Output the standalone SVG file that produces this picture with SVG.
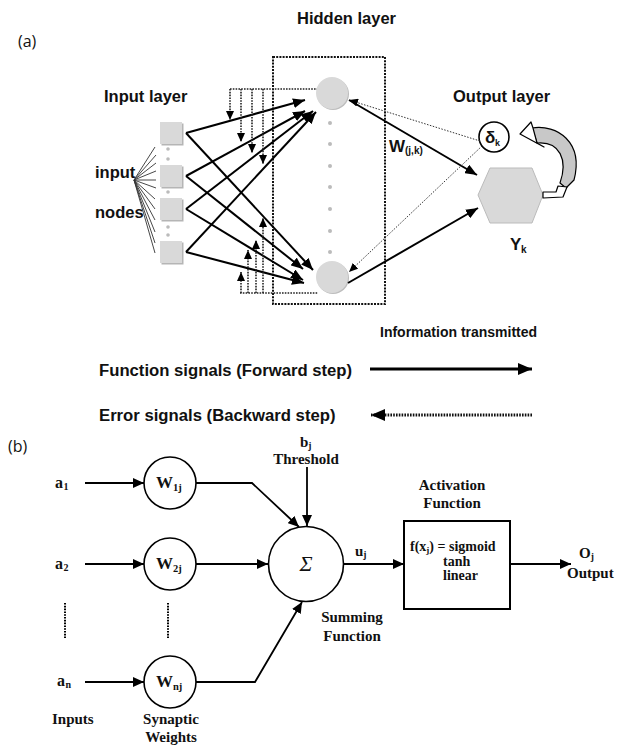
<svg xmlns="http://www.w3.org/2000/svg" width="620" height="746" viewBox="0 0 620 746">
<style>
.sa{font-family:"Liberation Sans",Arial,sans-serif;font-weight:bold;fill:#111}
.lab{font-family:"Open Sans","Liberation Sans",sans-serif;font-size:16px;fill:#111}
.tb{font-family:"Liberation Serif","Times New Roman",serif;font-weight:bold;fill:#111}
.sol{stroke:#000;stroke-width:2;fill:none}
.dot{stroke:#222;stroke-width:1.6;stroke-dasharray:1.6 1.2;fill:none}
.thin{stroke:#333;stroke-width:1;stroke-dasharray:1.5 1.5;fill:none}
.fan{stroke:#333;stroke-width:0.9;fill:none}
.gray{fill:#d9d9d9}
.wc{fill:#fff;stroke:#000;stroke-width:1.6}
.bl{stroke:#000;stroke-width:1.8;fill:none}
</style>
<defs>
<marker id="ah" markerUnits="userSpaceOnUse" markerWidth="12" markerHeight="10" viewBox="0 0 12 10" refX="12" refY="5" orient="auto"><path d="M0,0 L12,5 L0,10 Z" fill="#000"/></marker>
<marker id="ahs" markerUnits="userSpaceOnUse" markerWidth="9" markerHeight="8" viewBox="0 0 9 8" refX="9" refY="4" orient="auto"><path d="M0,0 L9,4 L0,8 Z" fill="#000"/></marker>
<marker id="ahb" markerUnits="userSpaceOnUse" markerWidth="11" markerHeight="10" viewBox="0 0 11 10" refX="11" refY="5" orient="auto"><path d="M0,0 L11,5 L0,10 Z" fill="#000"/></marker>
<marker id="ahl" markerUnits="userSpaceOnUse" markerWidth="14" markerHeight="12" viewBox="0 0 14 12" refX="14" refY="6" orient="auto"><path d="M0,0 L14,6 L0,12 Z" fill="#000"/></marker>
</defs>

<!-- Part (a) labels -->
<text class="lab" x="18" y="47">(a)</text>
<text class="sa" x="297" y="24" font-size="16.5">Hidden layer</text>
<text class="sa" x="104" y="102" font-size="16.5">Input layer</text>
<text class="sa" x="453" y="102" font-size="16.5">Output layer</text>
<text class="sa" x="95" y="178" font-size="16.5">input</text>
<text class="sa" x="95" y="218" font-size="16.5">nodes</text>

<!-- hidden layer box -->
<rect x="273" y="57" width="112" height="247" fill="none" stroke="#111" stroke-width="2" stroke-dasharray="2 1.2"/>

<!-- input nodes -->
<g id="in1"><rect x="161.5" y="123.5" width="22" height="22" fill="#b5b5b5"/><rect class="gray" x="160" y="122" width="22" height="22"/></g>
<g id="in2"><rect x="161.5" y="166.5" width="22" height="22" fill="#b5b5b5"/><rect class="gray" x="160" y="165" width="22" height="22"/></g>
<g id="in3"><rect x="161.5" y="199.5" width="22" height="22" fill="#b5b5b5"/><rect class="gray" x="160" y="198" width="22" height="22"/></g>
<g id="in4"><rect x="161.5" y="242.5" width="22" height="22" fill="#b5b5b5"/><rect class="gray" x="160" y="241" width="22" height="22"/></g>
<g id="indots" fill="#bbb">
<circle cx="168" cy="149" r="1.8"/><circle cx="168" cy="159" r="1.8"/><circle cx="168" cy="192" r="1.8"/><circle cx="168" cy="227" r="1.8"/><circle cx="168" cy="235" r="1.8"/>
</g>

<!-- hidden nodes -->
<g id="h1"><circle cx="333" cy="94" r="16" fill="#bdbdbd"/><circle class="gray" cx="332" cy="93" r="16"/></g>
<g id="h2"><circle cx="333" cy="278" r="16" fill="#bdbdbd"/><circle class="gray" cx="332" cy="277" r="16"/></g>
<g id="hdots" fill="#bbb">
<circle cx="330" cy="123" r="2"/><circle cx="330" cy="144" r="2"/><circle cx="330" cy="166" r="2"/><circle cx="330" cy="187" r="2"/><circle cx="330" cy="209" r="2"/><circle cx="330" cy="231" r="2"/><circle cx="330" cy="252" r="2"/>
</g>

<!-- output nodes -->
<g id="delta"><circle class="wc" cx="494" cy="137" r="15"/>
<text class="sa" x="485" y="143" font-size="17">δ</text><text class="sa" x="495" y="146" font-size="9">k</text></g>
<g id="yk"><polygon points="478,195 490,168 532,168 543,195 532,223 490,223" fill="#d9d9d9" stroke="#bbb" stroke-width="1"/>
<text class="sa" x="510" y="250" font-size="17">Y</text><text class="sa" x="521" y="253" font-size="10">k</text></g>
<g id="wjk"><text class="sa" x="389" y="152" font-size="17">W</text><text class="sa" x="405" y="154" font-size="10">(j,k)</text></g>

<!-- feedback curved arrow -->
<g id="feedback" stroke="#000" stroke-width="1.2" stroke-linejoin="round">
<path d="M532,128 C557,124 584,142 574,180 L566,188 L560,183 C568,160 560,141 537,143 Z" fill="#c8c8c8"/>
<path d="M520,134 L531,122 L533,128 L537,143 L544,147 Z" fill="#fff"/>
<path d="M543,192 L556,192 L558,186 L567,187 L563,197 L543,198 Z" fill="#fff"/>
</g>

<g id="connectors">
<!-- fan lines -->
<g class="fan">
<line x1="134" y1="180" x2="155" y2="147"/><line x1="134" y1="180" x2="156" y2="155"/><line x1="134" y1="180" x2="156" y2="163"/><line x1="134" y1="180" x2="156" y2="171"/><line x1="134" y1="180" x2="156" y2="180"/><line x1="134" y1="180" x2="156" y2="188"/><line x1="134" y1="180" x2="155" y2="199"/><line x1="134" y1="180" x2="155" y2="209"/><line x1="134" y1="180" x2="155" y2="220"/><line x1="134" y1="180" x2="155" y2="232"/><line x1="134" y1="180" x2="155" y2="243"/><line x1="134" y1="180" x2="155" y2="253"/>
</g>
<!-- input to hidden -->
<g class="sol" marker-end="url(#ah)">
<line x1="186" y1="133" x2="305" y2="100"/><line x1="186" y1="176" x2="305" y2="111"/><line x1="186" y1="209" x2="313" y2="111"/><line x1="186" y1="252" x2="316" y2="112"/>
<line x1="186" y1="133" x2="313" y2="270"/><line x1="186" y1="176" x2="303" y2="269"/><line x1="186" y1="209" x2="303" y2="280"/><line x1="186" y1="252" x2="304" y2="283"/>
</g>
<!-- backward dotted on left -->
<g class="dot">
<line x1="230" y1="89" x2="317" y2="89"/>
<line x1="240" y1="293" x2="318" y2="293"/>
</g>
<g class="dot" marker-end="url(#ahs)">
<line x1="230" y1="89" x2="230" y2="120"/><line x1="241" y1="89" x2="241" y2="142"/><line x1="252" y1="89" x2="252" y2="153"/><line x1="263" y1="89" x2="263" y2="164"/>
<line x1="241" y1="293" x2="241" y2="272"/><line x1="248" y1="293" x2="248" y2="250"/><line x1="256" y1="293" x2="256" y2="240"/><line x1="263" y1="293" x2="263" y2="218"/>
</g>
<!-- hidden to output -->
<g class="sol" marker-end="url(#ah)">
<line x1="349" y1="100" x2="477" y2="175"/>
<line x1="348" y1="283" x2="478" y2="208"/>
</g>
<g class="thin" marker-end="url(#ahs)">
<line x1="480" y1="141" x2="349" y2="100"/>
<line x1="482" y1="146" x2="349" y2="272"/>
</g>
<!-- legend -->
<line x1="370" y1="369" x2="532" y2="369" stroke="#000" stroke-width="3" marker-end="url(#ahl)"/>
<line x1="532" y1="415" x2="371" y2="415" stroke="#111" stroke-width="3" stroke-dasharray="1.6 1.2" marker-end="url(#ahl)"/>
</g>

<text class="sa" x="380" y="337" font-size="14">Information transmitted</text>
<text class="sa" x="99" y="376" font-size="16.7">Function signals (Forward step)</text>
<text class="sa" x="99" y="421" font-size="16.7">Error signals (Backward step)</text>

<!-- Part (b) -->
<text class="lab" x="8" y="452">(b)</text>

<g id="a1"><text class="tb" x="55" y="488" font-size="16">a</text><text class="tb" x="63.5" y="490" font-size="10">1</text></g>
<g id="a2"><text class="tb" x="55" y="569" font-size="16">a</text><text class="tb" x="63.5" y="571" font-size="10">2</text></g>
<g id="an"><text class="tb" x="57" y="686" font-size="16">a</text><text class="tb" x="65.5" y="688" font-size="10">n</text></g>

<g id="w1"><circle class="wc" cx="170" cy="483" r="26"/><text class="tb" x="156" y="488" font-size="17">W</text><text class="tb" x="173" y="491" font-size="10.5">1j</text></g>
<g id="w2"><circle class="wc" cx="170" cy="564" r="26"/><text class="tb" x="156" y="569" font-size="17">W</text><text class="tb" x="173" y="572" font-size="10.5">2j</text></g>
<g id="wn"><circle class="wc" cx="170" cy="682" r="26"/><text class="tb" x="156" y="687" font-size="17">W</text><text class="tb" x="173" y="690" font-size="10.5">nj</text></g>

<g id="sum"><circle class="wc" cx="306" cy="564" r="37.5"/><text x="306" y="571" text-anchor="middle" font-family="Liberation Serif,serif" font-style="italic" font-size="22" fill="#111">Σ</text></g>

<g id="act"><rect x="404" y="521" width="106" height="88" fill="#fff" stroke="#000" stroke-width="2"/>
<text class="tb" x="410" y="551" font-size="14">f(x<tspan font-size="9" dy="2">j</tspan><tspan dy="-2">) = sigmoid</tspan></text>
<text class="tb" x="443" y="566" font-size="14">tanh</text>
<text class="tb" x="443" y="580" font-size="14">linear</text></g>

<g id="connectors-b" class="bl">
<line x1="85" y1="483" x2="144" y2="483" marker-end="url(#ahb)"/>
<line x1="85" y1="564" x2="144" y2="564" marker-end="url(#ahb)"/>
<line x1="85" y1="682" x2="144" y2="682" marker-end="url(#ahb)"/>
<polyline points="196,483 252,483 299,527" marker-end="url(#ahb)"/>
<line x1="196" y1="564" x2="268" y2="564" marker-end="url(#ahb)"/>
<polyline points="196,682 255,682 302,602" marker-end="url(#ahb)"/>
<line x1="307" y1="467" x2="307" y2="526" marker-end="url(#ahb)"/>
<line x1="343.5" y1="564" x2="404" y2="564" marker-end="url(#ahb)"/>
<line x1="510" y1="564" x2="571" y2="564" marker-end="url(#ahb)"/>
<line x1="65" y1="603" x2="65" y2="638" stroke-dasharray="1.6 1.2" stroke-width="2"/>
<line x1="168" y1="603" x2="168" y2="638" stroke-dasharray="1.6 1.2" stroke-width="2"/>
</g>

<text class="tb" x="300" y="447" font-size="15">b<tspan font-size="9.5" dy="2">j</tspan></text>
<text class="tb" x="306" y="464" font-size="15" text-anchor="middle">Threshold</text>
<text class="tb" x="355" y="556" font-size="15">u<tspan font-size="9.5" dy="2">j</tspan></text>
<text class="tb" x="452" y="490" font-size="15" text-anchor="middle">Activation</text>
<text class="tb" x="452" y="508" font-size="15" text-anchor="middle">Function</text>
<text class="tb" x="579" y="558" font-size="15">O<tspan font-size="9.5" dy="2">j</tspan></text>
<text class="tb" x="567" y="578" font-size="15">Output</text>
<text class="tb" x="352" y="622" font-size="15" text-anchor="middle">Summing</text>
<text class="tb" x="352" y="641" font-size="15" text-anchor="middle">Function</text>
<text class="tb" x="52" y="724" font-size="15">Inputs</text>
<text class="tb" x="171" y="724" font-size="15" text-anchor="middle">Synaptic</text>
<text class="tb" x="171" y="742" font-size="15" text-anchor="middle">Weights</text>
</svg>
